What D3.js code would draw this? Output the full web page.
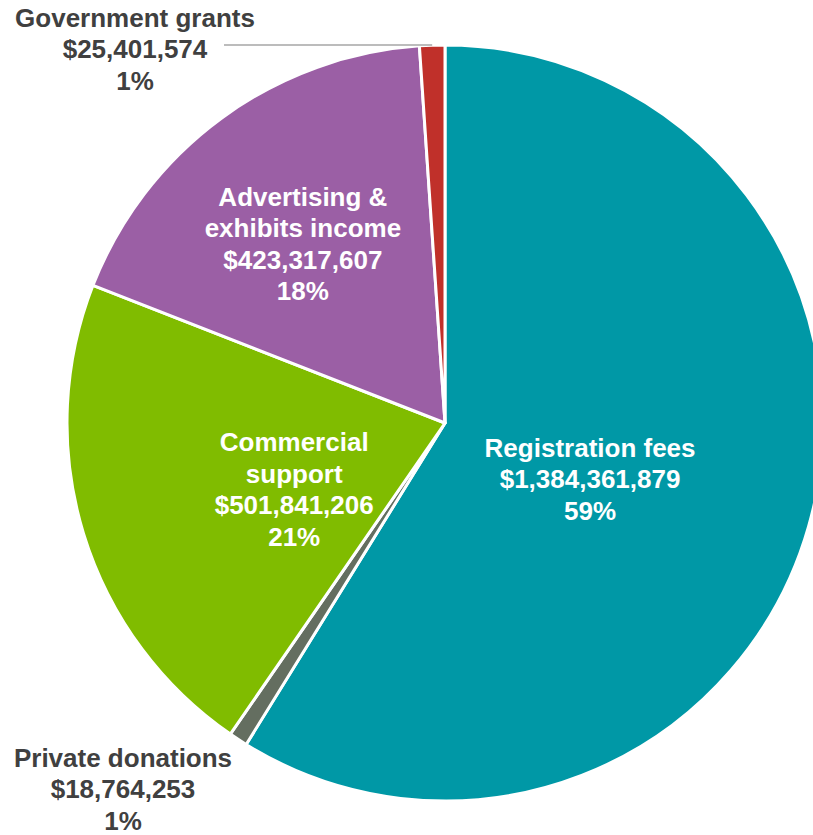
<!DOCTYPE html>
<html>
<head>
    <script src="https://d3js.org/d3.v7.min.js"></script>
    <style>
        body { margin: 0; background: #fff; }
        text { font-family: "Liberation Sans", Arial, sans-serif; font-weight: bold; font-size: 26px; }
    </style>
</head>
<body>
	<svg id="chart" width="813" height="835"></svg>
	<script>
		// revenue by source, clockwise from 12 o'clock
		var categories = ["Registration fees", "Private donations", "Commercial support", "Advertising & exhibits income", "Government grants"];
		var values = [1384361879, 18764253, 501841206, 423317607, 25401574];
		var percents = ["59%", "1%", "21%", "18%", "1%"];
		var labelLines = [
			["Registration fees"],
			["Private donations"],
			["Commercial", "support"],
			["Advertising &", "exhibits income"],
			["Government grants"]
		];

		var colors = ["#0098a6", "#646e60", "#80bc00", "#9b5fa5", "#c0302a"];

		var svg = d3.select("#chart"),
			cx = 445, cy = 423, radius = 378;

		var g = svg.append("g").attr("transform", "translate(" + cx + "," + cy + ")");

		var data = values.map(function(v, i) { return {name: categories[i], value: v, i: i}; });

		var pie = d3.pie().sort(null).value(function(d) { return d.value; });
		var arc = d3.arc().innerRadius(0).outerRadius(radius);
		var fmt = d3.format("$,");

		var arcs = pie(data);

		g.selectAll("path")
			.data(arcs)
			.enter()
			.append("path")
			.attr("d", arc)
			.attr("fill", function(d) { return colors[d.data.i]; })
			.attr("stroke", "#fff")
			.attr("stroke-width", 3)
			.attr("stroke-linejoin", "round");

		// label placement: inside labels sit on a radius (plus a nudge), outside ones are fixed boxes
		var inside = {0: [0.41, -4, 14], 2: [0.42, 1, 20], 3: [0.6, -8, 4]};
		var lineH = 31.5;

		function linesFor(i) {
			return labelLines[i].concat([fmt(values[i]), percents[i]]);
		}

		arcs.forEach(function(d) {
			var i = d.data.i;
			var lines = linesFor(i);
			var x, y, fill;
			if (inside[i] != null) {
				var r = radius * inside[i][0];
				var c = d3.arc().innerRadius(r).outerRadius(r).centroid(d);
				x = c[0] + inside[i][1]; y = c[1] + inside[i][2]; fill = "#fff";
			} else if (i === 4) {
				x = 135 - cx; y = 49 - cy; fill = "#404040";
			} else {
				x = 123 - cx; y = 789 - cy; fill = "#404040";
			}
			var t = g.append("text")
				.attr("text-anchor", "middle")
				.attr("fill", fill);
			lines.forEach(function(s, k) {
				t.append("tspan")
					.attr("x", x)
					.attr("y", y + (k - (lines.length - 1) / 2) * lineH + 9)
					.text(s);
			});
		});

		// leader line for government grants
		var gg = arcs[4];
		var mid = (gg.startAngle + gg.endAngle) / 2;
		g.append("line")
			.attr("x1", 224 - cx)
			.attr("y1", -radius)
			.attr("x2", Math.sin(mid) * radius)
			.attr("y2", -radius)
			.attr("stroke", "#a6a6a6")
			.attr("stroke-width", 1.5);
	</script>
</body>
</html>
